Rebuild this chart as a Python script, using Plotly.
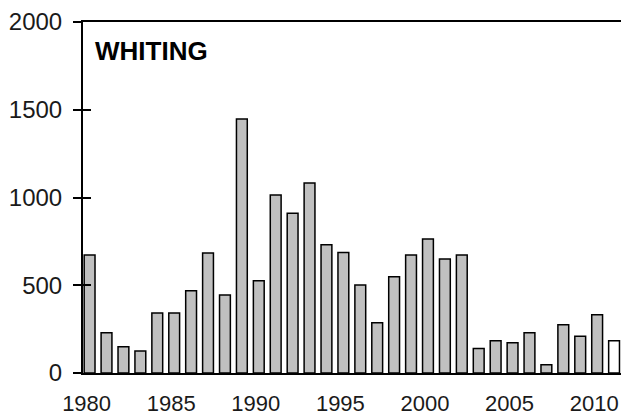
import plotly.graph_objects as go

years = list(range(1980, 2012))
values = [672, 230, 150, 125, 342, 342, 469, 684, 444, 1447, 526, 1014, 910, 1083,
          731, 686, 501, 287, 549, 672, 763, 650, 672, 139, 184, 173, 230, 47, 275,
          209, 332, 184]
fill_colors = ["#C0C0C0"] * 31 + ["#FFFFFF"]
x_tick_vals = [1980, 1985, 1990, 1995, 2000, 2005, 2010]
y_tick_vals = [0, 500, 1000, 1500, 2000]
title_text = "WHITING"

FONT = "Liberation Sans, Arial, sans-serif"

fig = go.Figure()
fig.add_trace(go.Bar(
    x=years, y=values,
    marker=dict(color=fill_colors, line=dict(color="#000000", width=1.5)),
    width=0.64,
    showlegend=False,
))
# invisible trace to host the inner tick axis
fig.add_trace(go.Scatter(x=years, y=values, yaxis="y2", mode="markers",
                         marker=dict(opacity=0), hoverinfo="skip", showlegend=False))

fig.update_layout(
    width=621, height=419,
    margin=dict(l=83, r=0, t=22, b=46, autoexpand=False),
    paper_bgcolor="white", plot_bgcolor="white",
    font=dict(family=FONT, color="#1a1a1a", size=22),
    xaxis=dict(
        range=[1979.61, 2011.41], automargin=False,
        tickvals=x_tick_vals, ticktext=[str(v) for v in x_tick_vals],
        showgrid=False, zeroline=False,
        showline=True, linecolor="#000000", linewidth=2, mirror=True,
        ticks="", ticklabelstandoff=10, ticklabelshift=-3, ticklabeloverflow="allow",
        tickfont=dict(size=22, family=FONT, color="#1a1a1a"),
    ),
    yaxis=dict(
        range=[0, 2000], automargin=False,
        tickvals=y_tick_vals,
        showgrid=False, zeroline=False,
        showline=True, linecolor="#000000", linewidth=2,
        ticks="outside", ticklen=8, tickwidth=2, tickcolor="#000000",
        ticklabelstandoff=6,
        tickfont=dict(size=24, family=FONT, color="#1a1a1a"),
    ),
    yaxis2=dict(
        range=[0, 2000], overlaying="y", side="left", automargin=False,
        tickvals=y_tick_vals, showticklabels=False,
        showgrid=False, zeroline=False, showline=False,
        ticks="inside", ticklen=8, tickwidth=2, tickcolor="#000000",
    ),
    annotations=[dict(
        text="<b>%s</b>" % title_text, xref="paper", yref="paper",
        x=0.0186, y=0.966, xanchor="left", yanchor="top", showarrow=False,
        font=dict(size=26, family=FONT, color="#000000"),
    )],
)

fig.write_html(
    "out.html",
    config={"displayModeBar": False},
    post_script="document.body.style.margin='0';document.body.style.overflow='hidden';",
)
